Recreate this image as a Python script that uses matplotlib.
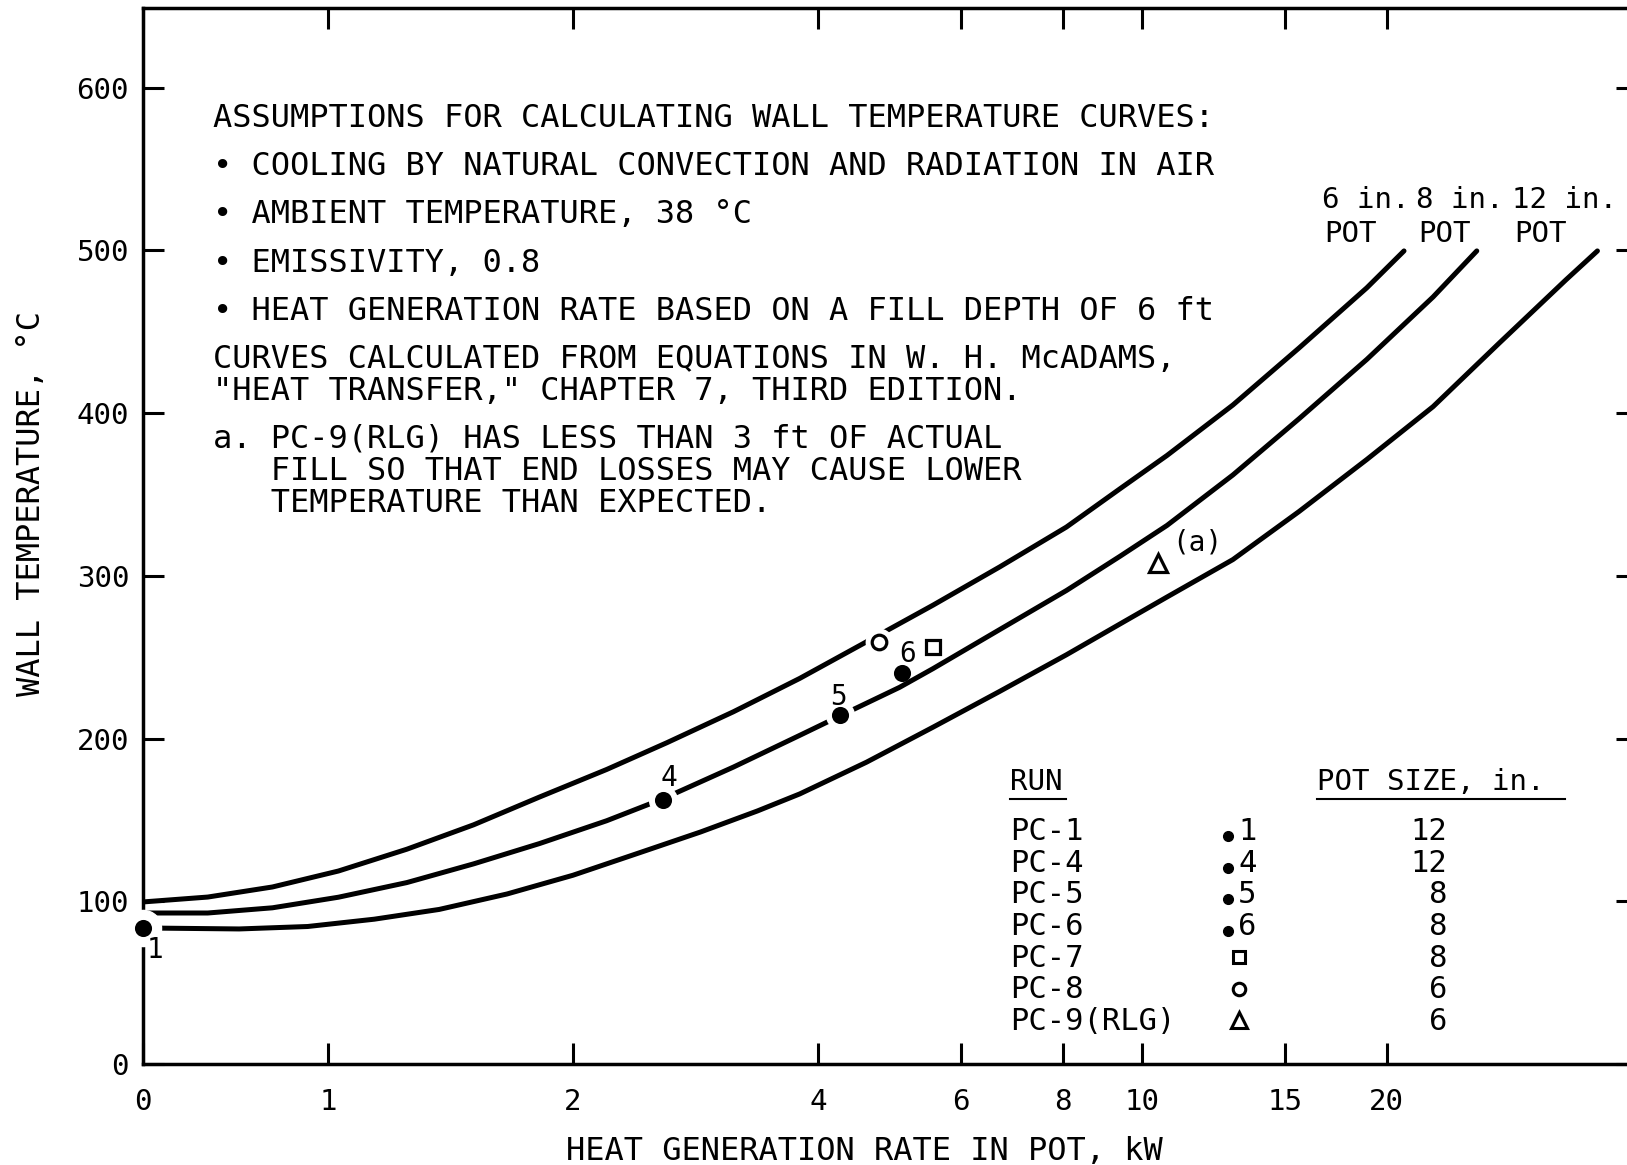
import numpy as np
import matplotlib.pyplot as plt
from matplotlib.lines import Line2D

plt.rcParams['font.family'] = ['DejaVu Sans Mono', 'DejaVu Sans']

W, H = 1627, 1165
ZERO = 0.755  # distance (in log2 units) between the "0" tick and the "1" tick

# wall temperature curves, heat generation rate (kW) vs temperature (C)
kw_6in = [0, 0.35, 0.70, 1.03, 1.25, 1.51, 1.82, 2.20, 2.61, 3.15, 3.80, 4.59,
          5.54, 6.69, 8.08, 9.40, 10.74, 12.94, 15.6, 18.9, 21.0]
t_6in = [99.6, 102.6, 108.8, 118.6, 132.0, 147.0, 164.1, 181.0, 197.5, 216.5,
         237, 259.5, 282, 305.5, 330, 353.5, 374, 405, 440, 477, 499.7]

kw_8in = [0, 0.35, 0.70, 1.03, 1.25, 1.51, 1.82, 2.20, 2.58, 3.15, 3.80, 4.26,
          5.04, 5.54, 6.69, 8.08, 9.40, 10.74, 12.94, 15.6, 18.9, 22.8, 25.8]
t_8in = [92.8, 92.8, 96.0, 102.5, 111.5, 123.0, 135.5, 149.5, 163, 182.5, 202, 214,
         231.5, 243, 267, 291, 312, 331, 362, 396.5, 433, 471.4, 499.7]

kw_12in = [0, 0.52, 0.89, 1.14, 1.37, 1.66, 2.0, 2.42, 2.87, 3.37, 3.80, 4.59,
           5.54, 6.69, 8.08, 9.40, 10.74, 12.94, 15.6, 18.9, 22.8, 27.5, 33.2, 36.3]
t_12in = [83.6, 83.0, 84.5, 89.0, 95.0, 104.5, 116, 130, 142.6, 155.5, 166,
          185.5, 207, 229, 251.5, 270.4, 287, 310, 339.5, 371.5, 404, 443.1,
          481.9, 499.7]

curve_names = ['6 in.', '8 in.', '12 in.']

# measured runs
runs = ['PC-1', 'PC-4', 'PC-5', 'PC-6', 'PC-7', 'PC-8', 'PC-9(RLG)']
run_kw = [0, 2.58, 4.26, 5.07, 5.54, 4.75, 10.47]
run_temp = [83.6, 162, 214.5, 240.3, 256.3, 259.4, 308]
run_marker = ['o', 'o', 'o', 'o', 's', 'o', '^']
run_filled = [True, True, True, True, False, False, False]
run_label = ['1', '4', '5', '6', '', '', '(a)']
pot_size = ['12', '12', '8', '8', '8', '6', '6']

x_ticks = [0, 1, 2, 4, 6, 8, 10, 15, 20]
y_ticks = [0, 100, 200, 300, 400, 500, 600]

notes = [
    'ASSUMPTIONS FOR CALCULATING WALL TEMPERATURE CURVES:',
    '\u2022 COOLING BY NATURAL CONVECTION AND RADIATION IN AIR',
    '\u2022 AMBIENT TEMPERATURE, 38 \u00b0C',
    '\u2022 EMISSIVITY, 0.8',
    '\u2022 HEAT GENERATION RATE BASED ON A FILL DEPTH OF 6 ft',
    'CURVES CALCULATED FROM EQUATIONS IN W. H. McADAMS,',
    '"HEAT TRANSFER," CHAPTER 7, THIRD EDITION.',
    'a. PC-9(RLG) HAS LESS THAN 3 ft OF ACTUAL',
    '   FILL SO THAT END LOSSES MAY CAUSE LOWER',
    '   TEMPERATURE THAN EXPECTED.',
]
note_base = [127, 175, 223, 272, 320, 368, 400, 448, 480, 512]


def fx(px):
    return px / W


def fy(py):
    return 1 - py / H


def fwd(x):
    x = np.asarray(x, dtype=float)
    return np.where(x >= 1, np.log2(np.maximum(x, 1)), ZERO * (x - 1))


def inv(y):
    y = np.asarray(y, dtype=float)
    return np.where(y >= 0, 2.0 ** np.maximum(y, 0), 1 + y / ZERO)


fig = plt.figure(figsize=(W / 100, H / 100), dpi=100)
ax = fig.add_axes([fx(143), fy(1064), (1637 - 143) / W, (1064 - 8) / H])
ax.set_xscale('function', functions=(fwd, inv))

for kw, t in [(kw_6in, t_6in), (kw_8in, t_8in), (kw_12in, t_12in)]:
    ax.plot(kw, t, color='black', lw=3.6, solid_capstyle='round',
            solid_joinstyle='round', zorder=2)

# white halos that break the curves (and the left spine) around the points
for i, hs in [(0, 26), (1, 20), (2, 20), (5, 19)]:
    ax.plot([run_kw[i]], [run_temp[i]], linestyle='none', marker='o', ms=hs,
            mfc='white', mec='white', zorder=5, clip_on=False)

for i in range(len(runs)):
    ms = {'o': 10 if run_filled[i] else 10.5, 's': 10, '^': 13}[run_marker[i]]
    ax.plot([run_kw[i]], [run_temp[i]], linestyle='none', marker=run_marker[i],
            ms=ms, mec='black', mfc='black' if run_filled[i] else 'white',
            mew=2.3, zorder=6, clip_on=False)

label_offsets = [(9, -16), (4, 16), (-1, 13), (4, 14), (0, 0), (0, 0), (28, 15)]
for i, lab in enumerate(run_label):
    if lab:
        ax.annotate(lab, (run_kw[i], run_temp[i]), xytext=label_offsets[i],
                    textcoords='offset points', ha='center', va='center',
                    fontsize=20, zorder=7)

ax.set_xlim(0, 40.6)
ax.set_ylim(0, 649)
ax.set_xticks(x_ticks)
ax.set_xticklabels([str(v) for v in x_ticks])
ax.set_yticks(y_ticks)
ax.set_yticklabels([str(v) for v in y_ticks])
ax.minorticks_off()
ax.tick_params(which='both', direction='in', length=15, width=2.2,
               top=True, right=True, labelsize=21)
ax.tick_params(axis='x', pad=17)
ax.tick_params(axis='y', pad=10)
for sp in ax.spines.values():
    sp.set_linewidth(2.5)
    sp.set_zorder(2.5)

fig.text(fx(864), fy(1160), 'HEAT GENERATION RATE IN POT, kW', fontsize=23,
         ha='center', va='baseline')
fig.text(fx(32), fy(503), 'WALL TEMPERATURE, \u00b0C', fontsize=23,
         rotation=90, ha='center', va='center')

for line, b in zip(notes, note_base):
    fig.text(fx(213), fy(b), line, fontsize=23, ha='left', va='baseline')

# curve labels
for name, px in zip(curve_names, [1322, 1416, 1512]):
    fig.text(fx(px), fy(208), name, fontsize=21, ha='left', va='baseline')
    fig.text(fx(px + 2), fy(242), 'POT', fontsize=21, ha='left', va='baseline')

# run table
fig.text(fx(1010), fy(790), 'RUN', fontsize=21, ha='left', va='baseline')
fig.text(fx(1317), fy(790), 'POT SIZE, in.', fontsize=21, ha='left', va='baseline')
fig.add_artist(Line2D([fx(1010), fx(1066)], [fy(799), fy(799)], color='black',
                      lw=1.5, transform=fig.transFigure))
fig.add_artist(Line2D([fx(1317), fx(1565)], [fy(799), fy(799)], color='black',
                      lw=1.5, transform=fig.transFigure))

for i, run in enumerate(runs):
    b = 840 + 31.7 * i
    fig.text(fx(1010), fy(b), run, fontsize=22, ha='left', va='baseline')
    fig.text(fx(1447), fy(b), pot_size[i], fontsize=22, ha='right', va='baseline')
    if run_filled[i]:
        fig.add_artist(Line2D([fx(1228)], [fy(b - 4)], marker='o', ms=7,
                              color='black', linestyle='none',
                              transform=fig.transFigure))
        fig.text(fx(1238), fy(b), run_label[i], fontsize=22, ha='left',
                 va='baseline')
    else:
        ms = {'o': 9, 's': 9, '^': 11}[run_marker[i]]
        fig.add_artist(Line2D([fx(1239)], [fy(b - 10)], marker=run_marker[i],
                              ms=ms, color='black', mfc='white', mew=2.2,
                              linestyle='none', transform=fig.transFigure))

fig.savefig('out.png', dpi=100)
